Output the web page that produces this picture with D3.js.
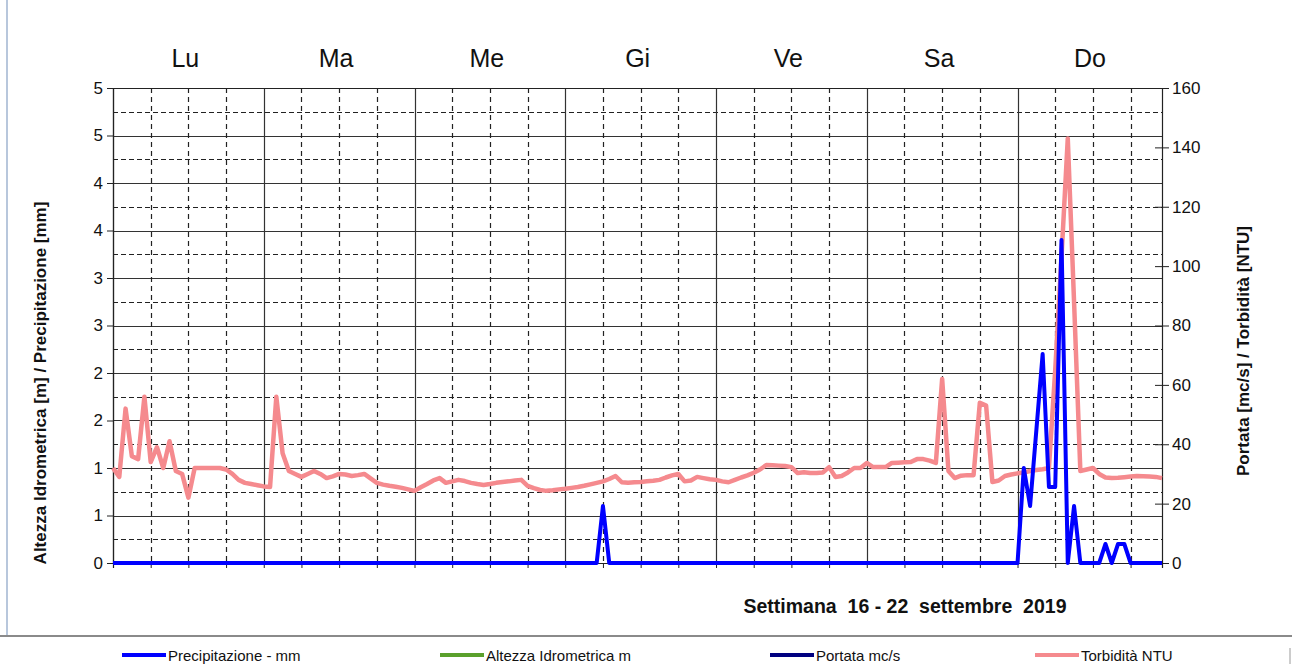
<!DOCTYPE html>
<html>
<head>
<meta charset="utf-8">
<title>Settimana 16 - 22 settembre 2019</title>
<script src="https://cdn.jsdelivr.net/npm/d3@7"></script>
<style>
  body { margin: 0; background: #fff; }
  svg { display: block; font-family: "Liberation Sans", Arial, sans-serif; }
</style>
</head>
<body>
<svg width="1292" height="668"></svg>
<script>
// days of the week shown on top
var days = ["Lu", "Ma", "Me", "Gi", "Ve", "Sa", "Do"];

// hourly rain (mm), hours 0..167 from Monday 00:00
var precipitazione = [
  0,0,0,0,0,0,0,0,0,0,0,0,0,0,0,0,0,0,0,0,0,0,0,0,
  0,0,0,0,0,0,0,0,0,0,0,0,0,0,0,0,0,0,0,0,0,0,0,0,
  0,0,0,0,0,0,0,0,0,0,0,0,0,0,0,0,0,0,0,0,0,0,0,0,
  0,0,0,0,0,0,0.6,0,0,0,0,0,0,0,0,0,0,0,0,0,0,0,0,0,
  0,0,0,0,0,0,0,0,0,0,0,0,0,0,0,0,0,0,0,0,0,0,0,0,
  0,0,0,0,0,0,0,0,0,0,0,0,0,0,0,0,0,0,0,0,0,0,0,0,
  0,1.0,0.6,1.4,2.2,0.8,0.8,3.4,0,0.6,0,0,0,0,0.2,0,0.2,0.2,0,0,0,0,0,0
];

// hourly turbidity (NTU), one row per day
var torbidita = [
  32,29,52,36,35,56,34,39,32,41,31,30,22,32,32,32,32,32,31.5,30,28,27,26.6,26.2,
  25.8,25.6,56,37,31,30,29,30,31,30,28.6,29.2,30,29.8,29.3,29.6,30,28.5,27,26.4,26,25.7,25.3,24.8,
  24.3,25.5,26.6,27.8,28.6,27,27.5,28,27.6,27,26.6,26.3,26.6,27,27.3,27.5,27.8,28,26,25.2,24.6,24.3,24.5,24.8,
  25,25.3,25.6,26,26.5,27,27.5,28.3,29.3,27.2,27,27.2,27.3,27.5,27.7,28,28.8,29.5,30,27.5,27.8,29,28.6,28.2,
  28,27.5,27.2,28,28.8,29.5,30.4,31.5,33,32.9,32.8,32.7,32.3,30.3,30.6,30.3,30.3,30.5,32.3,29,29.3,30.5,32,32,
  33.7,32.3,32.3,32.3,33.7,33.8,33.9,34,35,35,34.5,33.7,62,31,28.6,29.4,29.6,29.6,54,53,27.3,27.8,29.3,29.8,
  30.2,30.5,31,31.3,31.6,32,65,103,143,88,31,31.5,32,30,28.8,28.6,28.7,28.9,29.1,29.3,29.2,29.1,29,28.6
];

var leftTicks = [0, 0.5, 1, 1.5, 2, 2.5, 3, 3.5, 4, 4.5, 5];
var rightTicks = [0, 20, 40, 60, 80, 100, 120, 140, 160];

var legendItems = [
  {name: "Precipitazione - mm", color: "#0000ff"},
  {name: "Altezza Idrometrica m", color: "#5aa02c"},
  {name: "Portata mc/s", color: "#000080"},
  {name: "Torbidità NTU", color: "#f58a8e"}
];

var svg = d3.select("svg");
var plotL = 113, plotR = 1162, plotT = 88, plotB = 563;

var x = d3.scaleLinear().domain([0, 167]).range([plotL, plotR]);
var yL = d3.scaleLinear().domain([0, 5]).range([plotB, plotT]);
var yR = d3.scaleLinear().domain([0, 160]).range([plotB, plotT]);

// frame decorations
svg.append("rect").attr("x", 6).attr("y", 0).attr("width", 2).attr("height", 636).attr("fill", "#b8c7dc");
svg.append("line").attr("x1", 0).attr("x2", 1292).attr("y1", 636).attr("y2", 636)
  .attr("stroke", "#8a8a8a").attr("stroke-width", 2);
svg.append("line").attr("x1", 1290).attr("x2", 1290).attr("y1", 648).attr("y2", 664)
  .attr("stroke", "#9a9a9a").attr("stroke-width", 1);

var grid = svg.append("g");

// horizontal grid: solid on labelled ticks, dashed in between
grid.selectAll("line.hs").data(leftTicks).enter().append("line")
  .attr("x1", plotL).attr("x2", plotR)
  .attr("y1", d => Math.round(yL(d)) + 0.5).attr("y2", d => Math.round(yL(d)) + 0.5)
  .attr("stroke", "#333").attr("stroke-width", 1.2);
grid.selectAll("line.hd").data(leftTicks.slice(1).map(d => d - 0.25)).enter().append("line")
  .attr("x1", plotL).attr("x2", plotR)
  .attr("y1", d => Math.round(yL(d)) + 0.5).attr("y2", d => Math.round(yL(d)) + 0.5)
  .attr("stroke", "#222").attr("stroke-width", 1.2).attr("stroke-dasharray", "5,3");

// vertical grid: solid at midnight, dashed every 6 hours
var hours6 = d3.range(0, 168, 6);
grid.selectAll("line.v").data(hours6).enter().append("line")
  .attr("x1", d => Math.round(x(d)) + 0.5).attr("x2", d => Math.round(x(d)) + 0.5)
  .attr("y1", plotT).attr("y2", plotB)
  .attr("stroke", d => d % 24 === 0 ? "#333" : "#222").attr("stroke-width", 1.2)
  .attr("stroke-dasharray", d => d % 24 === 0 ? null : "5,4");

// axes
var axL = svg.append("g").attr("transform", "translate(" + plotL + ",0)")
  .call(d3.axisLeft(yL).tickValues(leftTicks).tickSize(6).tickPadding(4)
    .tickFormat(d => Math.round(d)));
var axR = svg.append("g").attr("transform", "translate(" + plotR + ",0)")
  .call(d3.axisRight(yR).tickValues(rightTicks).tickSize(7).tickPadding(3));
axR.selectAll(".tick line").attr("x1", -7);
var axB = svg.append("g").attr("transform", "translate(0," + plotB + ")")
  .call(d3.axisBottom(x).tickValues(hours6).tickSize(5).tickFormat(""));

[axL, axR, axB].forEach(function(a) {
  a.select(".domain").attr("stroke", "#222").attr("stroke-width", 1.2);
  a.selectAll(".tick line").attr("stroke", "#222");
  a.selectAll("text").attr("font-size", 17).attr("fill", "#111")
    .attr("font-family", "'Liberation Sans', Arial, sans-serif");
});
svg.append("line").attr("x1", plotL).attr("x2", plotR).attr("y1", plotT + 0.5).attr("y2", plotT + 0.5)
  .attr("stroke", "#222").attr("stroke-width", 1.2);

// day labels
svg.selectAll("text.day").data(days).enter().append("text")
  .attr("x", (d, i) => x(i * 24 + 12) - 3).attr("y", 67)
  .attr("text-anchor", "middle").attr("font-size", 25).attr("fill", "#111")
  .text(d => d);

// series
var line = function(ys) {
  return d3.line().x((d, i) => x(i)).y(d => ys(d));
};
svg.append("path").datum(torbidita)
  .attr("d", line(yR)).attr("fill", "none")
  .attr("stroke", "#f58a8e").attr("stroke-width", 4.5).attr("stroke-linejoin", "round");
svg.append("path").datum(precipitazione)
  .attr("d", line(yL)).attr("fill", "none")
  .attr("stroke", "#0000ff").attr("stroke-width", 4).attr("stroke-linejoin", "round");

// axis titles
svg.append("text").attr("transform", "translate(46,383) rotate(-90)")
  .attr("text-anchor", "middle").attr("font-size", 17).attr("font-weight", "bold")
  .attr("fill", "#111").text("Altezza Idrometrica [m] / Precipitazione [mm]");
svg.append("text").attr("transform", "translate(1249,351) rotate(-90)")
  .attr("text-anchor", "middle").attr("font-size", 17).attr("font-weight", "bold")
  .attr("fill", "#111").text("Portata [mc/s] / Torbidità [NTU]");

svg.append("text").attr("x", 905).attr("y", 613).attr("text-anchor", "middle")
  .attr("font-size", 19.5).attr("font-weight", "bold").attr("fill", "#111")
  .style("white-space", "pre")
  .text("Settimana  16 - 22  settembre  2019");

// legend
var legendX = [122, 440, 770, 1035];
var lg = svg.selectAll("g.lg").data(legendItems).enter().append("g")
  .attr("transform", (d, i) => "translate(" + legendX[i] + ",655)");
lg.append("line").attr("x1", 0).attr("x2", 44).attr("y1", 0).attr("y2", 0)
  .attr("stroke", d => d.color).attr("stroke-width", 4);
lg.append("text").attr("x", 46).attr("y", 5.5).attr("font-size", 15).attr("fill", "#111")
  .text(d => d.name);
</script>
</body>
</html>
